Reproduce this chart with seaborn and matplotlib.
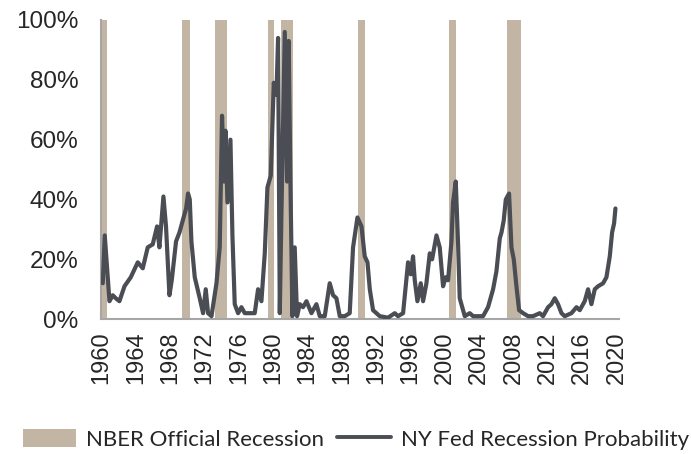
import pandas as pd
import seaborn as sns
import matplotlib.pyplot as plt
from matplotlib.patches import Patch
from matplotlib.lines import Line2D

# data (year as decimal, probability in %)
years = [1960.12, 1960.35, 1960.90, 1961.28, 1961.63, 1962.06, 1962.65, 1963.38, 1964.20, 1964.78,
         1965.36, 1965.94, 1966.45, 1966.72, 1967.19, 1967.49, 1967.89, 1968.16, 1968.66, 1969.06,
         1969.44, 1969.83, 1970.06, 1970.26, 1970.45, 1970.84, 1971.42, 1971.81, 1972.12, 1972.39,
         1972.79, 1973.37, 1973.75, 1974.02, 1974.25, 1974.42, 1974.65, 1975.00, 1975.23, 1975.50,
         1975.89, 1976.28, 1976.67, 1977.25, 1977.83, 1978.22, 1978.61, 1979.00, 1979.31, 1979.70,
         1980.05, 1980.36, 1980.55, 1980.75, 1980.94, 1981.33, 1981.60, 1981.79, 1981.99, 1982.22,
         1982.49, 1982.76, 1983.08, 1983.46, 1983.86, 1984.44, 1985.02, 1985.41, 1985.99, 1986.57,
         1986.96, 1987.35, 1987.74, 1988.32, 1988.90, 1989.29, 1989.80, 1990.27, 1990.65, 1990.97,
         1991.24, 1991.62, 1992.40, 1993.37, 1994.15, 1994.53, 1995.12, 1995.70, 1996.01, 1996.28,
         1996.48, 1996.79, 1997.18, 1997.45, 1997.84, 1998.23, 1998.50, 1999.01, 1999.39, 1999.78,
         2000.09, 2000.36, 2000.76, 2000.94, 2001.26, 2001.53, 2001.72, 2002.11, 2002.31, 2002.89,
         2003.28, 2003.86, 2004.44, 2005.02, 2005.61, 2006.00, 2006.39, 2006.59, 2006.85, 2007.09,
         2007.47, 2007.75, 2008.02, 2008.33, 2008.64, 2009.11, 2009.69, 2010.27, 2011.05, 2011.43,
         2012.02, 2012.41, 2012.80, 2013.18, 2013.58, 2013.96, 2014.74, 2015.33, 2015.71, 2016.29,
         2016.68, 2017.07, 2017.46, 2017.85, 2018.43, 2018.82, 2019.21, 2019.48, 2019.71, 2019.87]
prob = [12, 28, 6, 8, 7, 6, 11, 14, 19, 17,
        24, 25, 31, 24, 41, 31, 8, 13, 26, 29,
        33, 37, 42, 40, 26, 14, 7, 2, 10, 2,
        1, 12, 24, 68, 46, 63, 39, 60, 28, 5,
        2, 4, 2, 2, 2, 10, 6, 22, 44, 48,
        79, 75, 94, 2, 35, 96, 46, 93, 46, 1,
        24, 1, 5, 4, 6, 2, 5, 1, 1, 12,
        8, 7, 1, 1, 2, 24, 34, 31, 21, 19,
        10, 3, 1, 0.5, 2, 1, 2, 19, 15, 21,
        13, 6, 12, 6, 12, 22, 20, 28, 24, 11,
        14, 13, 26, 39, 46, 25, 7, 3, 1, 2,
        1, 1, 1, 4, 10, 16, 27, 29, 33, 40,
        42, 24, 20, 11, 3, 2, 1, 1, 2, 1,
        4, 5, 7, 5, 2, 1, 2, 4, 3, 6,
        10, 5, 10, 11, 12, 14, 21, 29, 32, 37]

rec_start = [1959.97, 1969.32, 1973.25, 1979.38, 1980.86, 1989.87, 2000.48, 2007.24]
rec_end = [1960.62, 1970.34, 1974.65, 1980.05, 1982.30, 1990.65, 2001.26, 2008.83]

tick_years = list(range(1960, 2021, 4))
pct_ticks = [0, 20, 40, 60, 80, 100]

df = pd.DataFrame({"year": years, "prob": prob})

sns.set_style("white")
plt.rcParams['font.family'] = ['Liberation Sans', 'DejaVu Sans']

rec_color = "#c2b5a3"
line_color = "#4a4d53"
spine_color = "#a6a6a6"

fig = plt.figure(figsize=(6.91, 4.54), dpi=100)
ax = fig.add_axes([0.146, 0.297, 0.750, 0.659])

for s, e in zip(rec_start, rec_end):
    ax.axvspan(s, e, color=rec_color, lw=0, zorder=1)

sns.lineplot(x="year", y="prob", data=df, color=line_color, linewidth=3, ax=ax, zorder=3)

ax.set_xlim(1959.9, 2020.3)
ax.set_ylim(0, 100)
ax.set_xticks(tick_years)
ax.set_xticklabels([str(y) for y in tick_years], rotation=90, fontsize=17)
ax.set_yticks(pct_ticks)
ax.set_yticklabels([f"{p}%" for p in pct_ticks], fontsize=17.5)
ax.set_xlabel("")
ax.set_ylabel("")
ax.tick_params(axis="x", direction="in", length=5, width=1.2, color=spine_color, pad=9)
ax.tick_params(axis="y", length=0, pad=16)

sns.despine(ax=ax)
for side in ["left", "bottom"]:
    ax.spines[side].set_color(spine_color)
    ax.spines[side].set_linewidth(1.5)

handles = [Patch(facecolor=rec_color, edgecolor="none"),
           Line2D([0], [0], color=line_color, linewidth=2.8)]
fig.legend(handles, ["NBER Official Recession", "NY Fed Recession Probability"],
           loc="lower center", bbox_to_anchor=(0.515, -0.035), ncol=2, frameon=False,
           prop={"family": "Lato", "size": 16}, handlelength=2.4, handleheight=0.9,
           handletextpad=0.45, columnspacing=0.6)

fig.savefig("out.png", dpi=100)
